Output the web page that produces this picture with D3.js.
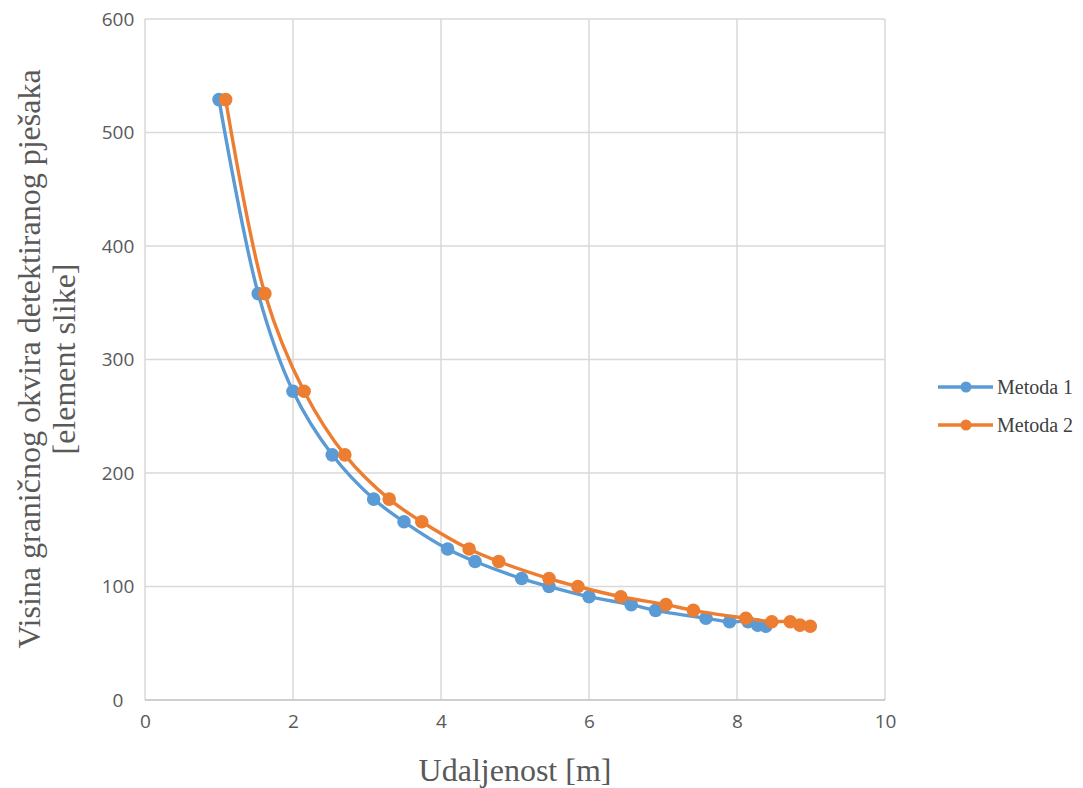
<!DOCTYPE html>
<html lang="en">
<head>
    <meta charset="UTF-8">
    <title>Visina okvira</title>
    <script src="https://cdn.jsdelivr.net/npm/d3@7"></script>
    <style>
        body { margin: 0; background: #fff; }
        .tick text { font-family: "Open Sans", sans-serif; font-size: 19px; fill: #595959; }
        .axis-title { font-family: "Liberation Serif", serif; font-size: 32px; fill: #595959; }
        .legend text { font-family: "Liberation Serif", serif; font-size: 20px; fill: #404040; }
    </style>
</head>
<body>
<div id="chart"></div>
<script>
    const width = 1083;
    const height = 788;

    // udaljenost [m] for each method, visina [element slike]
    const distMetoda1 = [1.0, 1.53, 2.0, 2.53, 3.09, 3.5, 4.09, 4.46, 5.09, 5.46, 6.0, 6.57, 6.9, 7.58, 7.9, 8.15, 8.28, 8.39];
    const distMetoda2 = [1.09, 1.62, 2.15, 2.70, 3.30, 3.74, 4.38, 4.78, 5.46, 5.85, 6.43, 7.04, 7.41, 8.12, 8.47, 8.72, 8.85, 8.99];
    const visina = [529, 358, 272, 216, 177, 157, 133, 122, 107, 100, 91, 84, 79, 72, 69, 69, 66, 65];
    const xTicks = [0, 2, 4, 6, 8, 10];
    const yTicks = [0, 100, 200, 300, 400, 500, 600];
    const seriesNames = ["Metoda 1", "Metoda 2"];
    const seriesColors = ["#5B9BD5", "#ED7D31"];

    const PLOT_LEFT = 145;
    const PLOT_RIGHT = 885;
    const PLOT_TOP = 19;
    const PLOT_BOTTOM = 700;

    const svg = d3.select("#chart").append("svg")
        .attr("width", width)
        .attr("height", height);

    const x = d3.scaleLinear().domain([0, 10]).range([PLOT_LEFT, PLOT_RIGHT]);
    const y = d3.scaleLinear().domain([0, 600]).range([PLOT_BOTTOM, PLOT_TOP]);

    // grid
    svg.append("g").selectAll("line.vgrid")
        .data(xTicks)
        .enter().append("line")
        .attr("x1", d => x(d)).attr("x2", d => x(d))
        .attr("y1", PLOT_TOP).attr("y2", PLOT_BOTTOM)
        .attr("stroke", "#D9D9D9").attr("stroke-width", 1.5);
    svg.append("g").selectAll("line.hgrid")
        .data(yTicks)
        .enter().append("line")
        .attr("x1", PLOT_LEFT).attr("x2", PLOT_RIGHT)
        .attr("y1", d => y(d)).attr("y2", d => y(d))
        .attr("stroke", d => d === 0 ? "#BFBFBF" : "#D9D9D9").attr("stroke-width", 1.5);

    const xAxis = svg.append("g")
        .attr("transform", "translate(0," + PLOT_BOTTOM + ")")
        .call(d3.axisBottom(x).tickValues(xTicks).tickSize(0).tickPadding(15));
    xAxis.select(".domain").remove();

    const yAxis = svg.append("g")
        .attr("transform", "translate(" + PLOT_LEFT + ",0)")
        .call(d3.axisLeft(y).tickValues(yTicks).tickSize(0));
    yAxis.select(".domain").remove();
    yAxis.selectAll(".tick text")
        .attr("text-anchor", "middle")
        .attr("x", -27);

    // axis titles
    svg.append("text")
        .attr("class", "axis-title")
        .attr("x", 515)
        .attr("y", 781)
        .attr("text-anchor", "middle")
        .text("Udaljenost [m]");

    const yTitle = svg.append("text")
        .attr("class", "axis-title")
        .attr("transform", "translate(40,359) rotate(-90)")
        .attr("text-anchor", "middle");
    yTitle.append("tspan").attr("x", 0).attr("dy", 0).text("Visina graničnog okvira detektiranog pješaka");
    yTitle.append("tspan").attr("x", 0).attr("dy", 35).text("[element slike]");

    // series
    const series = [distMetoda1, distMetoda2].map((dist, i) => ({
        name: seriesNames[i],
        color: seriesColors[i],
        points: dist.map((d, j) => ({ x: d, y: visina[j] }))
    }));

    const line = d3.line()
        .x(d => x(d.x))
        .y(d => y(d.y))
        .curve(d3.curveCatmullRom.alpha(0.5));

    series.forEach(function (s) {
        const g = svg.append("g");
        g.append("path")
            .datum(s.points)
            .attr("d", line)
            .attr("fill", "none")
            .attr("stroke", s.color)
            .attr("stroke-width", 3.4);
        g.selectAll("circle")
            .data(s.points)
            .enter().append("circle")
            .attr("cx", d => x(d.x))
            .attr("cy", d => y(d.y))
            .attr("r", 6.8)
            .attr("fill", s.color);
    });

    // legend
    const legend = svg.append("g").attr("class", "legend");
    series.forEach(function (s, i) {
        const ly = 387 + i * 38;
        legend.append("line")
            .attr("x1", 938).attr("x2", 993)
            .attr("y1", ly).attr("y2", ly)
            .attr("stroke", s.color).attr("stroke-width", 3.4);
        legend.append("circle")
            .attr("cx", 966).attr("cy", ly).attr("r", 5.5)
            .attr("fill", s.color);
        legend.append("text")
            .attr("x", 997).attr("y", ly + 7)
            .text(s.name);
    });
</script>
</body>
</html>
